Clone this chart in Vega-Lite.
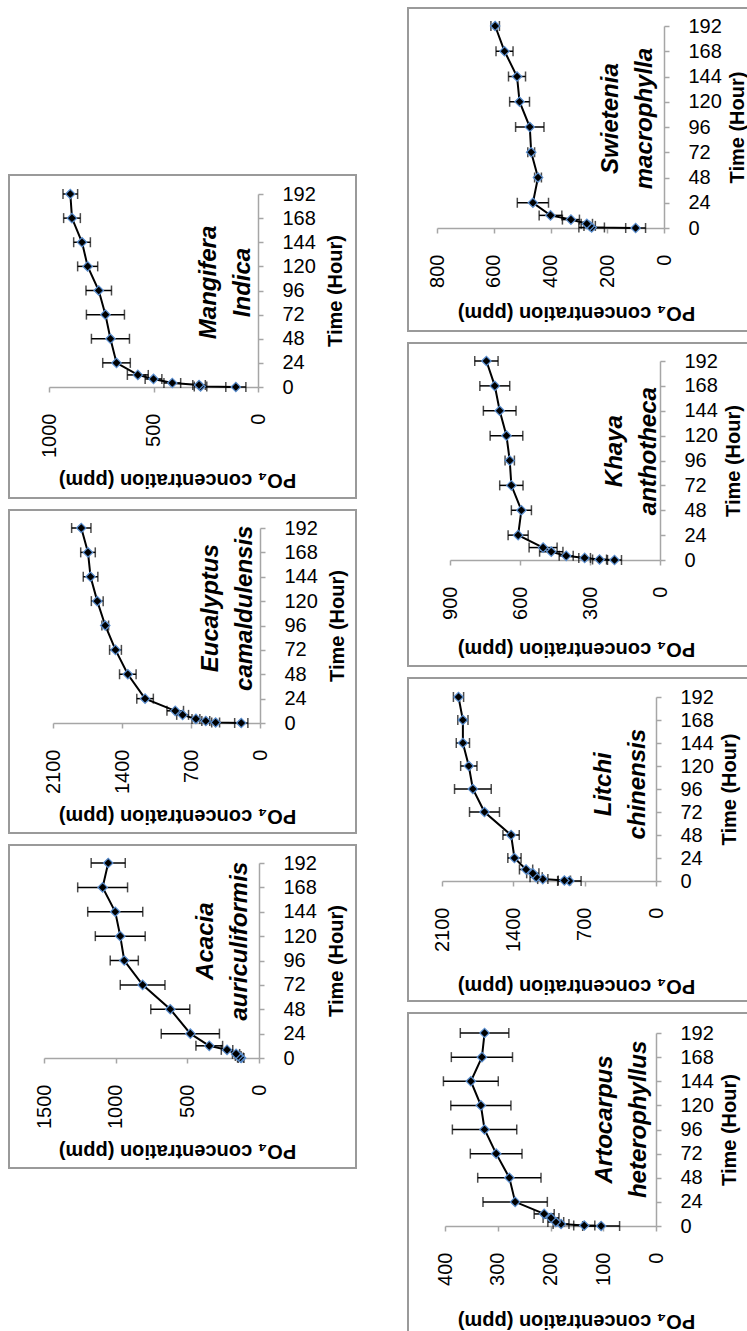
{
  "$schema": "https://vega.github.io/schema/vega-lite/v6.json",
  "padding": {"left": 8, "top": 7, "right": 0, "bottom": 0},
  "background": "white",
  "spacing": 50,
  "datasets": {
    "mangifera": [
      {"t": 0, "c": 106, "e": 48}, {"t": 0.5, "c": 275, "e": 30}, {"t": 2, "c": 282, "e": 30}, {"t": 4, "c": 410, "e": 40},
      {"t": 8, "c": 500, "e": 40}, {"t": 12, "c": 575, "e": 50}, {"t": 24, "c": 677, "e": 66}, {"t": 48, "c": 706, "e": 91},
      {"t": 72, "c": 730, "e": 91}, {"t": 96, "c": 762, "e": 61}, {"t": 120, "c": 815, "e": 48}, {"t": 144, "c": 842, "e": 40},
      {"t": 168, "c": 890, "e": 40}, {"t": 192, "c": 898, "e": 35}
    ],
    "eucalyptus": [
      {"t": 0, "c": 190, "e": 67}, {"t": 0.5, "c": 450, "e": 40}, {"t": 2, "c": 550, "e": 40}, {"t": 4, "c": 650, "e": 40},
      {"t": 8, "c": 785, "e": 60}, {"t": 12, "c": 860, "e": 84}, {"t": 24, "c": 1166, "e": 84}, {"t": 48, "c": 1341, "e": 84},
      {"t": 72, "c": 1466, "e": 60}, {"t": 96, "c": 1570, "e": 34}, {"t": 120, "c": 1651, "e": 60}, {"t": 144, "c": 1719, "e": 74},
      {"t": 168, "c": 1745, "e": 74}, {"t": 192, "c": 1813, "e": 98}
    ],
    "acacia": [
      {"t": 0, "c": 125, "e": 20}, {"t": 0.5, "c": 130, "e": 20}, {"t": 2, "c": 145, "e": 20}, {"t": 4, "c": 160, "e": 25},
      {"t": 8, "c": 223, "e": 40}, {"t": 12, "c": 347, "e": 93}, {"t": 24, "c": 479, "e": 203}, {"t": 48, "c": 619, "e": 136},
      {"t": 72, "c": 812, "e": 156}, {"t": 96, "c": 940, "e": 98}, {"t": 120, "c": 968, "e": 174}, {"t": 144, "c": 1003, "e": 192},
      {"t": 168, "c": 1091, "e": 174}, {"t": 192, "c": 1052, "e": 119}
    ],
    "swietenia": [
      {"t": 0, "c": 100, "e": 35}, {"t": 0.5, "c": 255, "e": 45}, {"t": 2, "c": 262, "e": 20}, {"t": 4, "c": 272, "e": 20},
      {"t": 8, "c": 328, "e": 30}, {"t": 12, "c": 400, "e": 40}, {"t": 24, "c": 462, "e": 55}, {"t": 48, "c": 444, "e": 12},
      {"t": 72, "c": 468, "e": 12}, {"t": 96, "c": 473, "e": 50}, {"t": 120, "c": 509, "e": 35}, {"t": 144, "c": 518, "e": 30},
      {"t": 168, "c": 562, "e": 30}, {"t": 192, "c": 595, "e": 15}
    ],
    "khaya": [
      {"t": 0, "c": 195, "e": 30}, {"t": 0.5, "c": 259, "e": 30}, {"t": 2, "c": 323, "e": 25}, {"t": 4, "c": 402, "e": 30},
      {"t": 8, "c": 466, "e": 50}, {"t": 12, "c": 501, "e": 60}, {"t": 24, "c": 608, "e": 43}, {"t": 48, "c": 594, "e": 43},
      {"t": 72, "c": 637, "e": 50}, {"t": 96, "c": 644, "e": 20}, {"t": 120, "c": 658, "e": 70}, {"t": 144, "c": 687, "e": 70},
      {"t": 168, "c": 708, "e": 64}, {"t": 192, "c": 744, "e": 50}
    ],
    "litchi": [
      {"t": 0, "c": 850, "e": 115}, {"t": 0.5, "c": 899, "e": 60}, {"t": 2, "c": 1111, "e": 50}, {"t": 4, "c": 1176, "e": 60},
      {"t": 8, "c": 1209, "e": 60}, {"t": 12, "c": 1275, "e": 65}, {"t": 24, "c": 1389, "e": 65}, {"t": 48, "c": 1422, "e": 80},
      {"t": 72, "c": 1683, "e": 147}, {"t": 96, "c": 1797, "e": 180}, {"t": 120, "c": 1837, "e": 80}, {"t": 144, "c": 1895, "e": 65},
      {"t": 168, "c": 1895, "e": 50}, {"t": 192, "c": 1938, "e": 50}
    ],
    "artocarpus": [
      {"t": 0, "c": 104, "e": 35}, {"t": 0.5, "c": 136, "e": 20}, {"t": 2, "c": 180, "e": 15}, {"t": 4, "c": 190, "e": 15},
      {"t": 8, "c": 199, "e": 15}, {"t": 12, "c": 212, "e": 19}, {"t": 24, "c": 267, "e": 61}, {"t": 48, "c": 278, "e": 60},
      {"t": 72, "c": 303, "e": 49}, {"t": 96, "c": 325, "e": 61}, {"t": 120, "c": 332, "e": 57}, {"t": 144, "c": 351, "e": 52},
      {"t": 168, "c": 330, "e": 58}, {"t": 192, "c": 325, "e": 46}
    ]
  },
  "hconcat": [
    {
      "spacing": 10,
      "vconcat": [
        {"width": 347, "height": 156, "view": {"stroke": null}, "data": {"values": []}, "mark": "point"},
        {
          "width": 347, "height": 323,
          "view": {"stroke": "#9a9a9a", "strokeWidth": 2},
          "data": {"name": "mangifera"},
          "encoding": {
            "x": {"field": "c", "type": "quantitative", "scale": {"domain": [0, 1000], "range": [249, 40], "nice": false, "zero": false},
                  "axis": {"values": [0, 500, 1000], "offset": -111, "title": "PO₄ concentration (ppm)", "titleY": 92}},
            "y": {"field": "t", "type": "quantitative", "scale": {"domain": [0, 192], "range": [212, 19], "nice": false},
                  "axis": {"orient": "right", "values": [0, 24, 48, 72, 96, 120, 144, 168, 192], "offset": -98, "title": "Time (Hour)"}}
          },
          "layer": [
            {"mark": {"type": "errorbar", "color": "black", "thickness": 1.5, "ticks": {"size": 10, "thickness": 1.5, "color": "black"}}, "encoding": {"xError": {"field": "e"}}},
            {"mark": {"type": "line", "color": "black", "strokeWidth": 2}, "encoding": {"order": {"field": "t", "type": "quantitative"}}},
            {"mark": {"type": "point", "shape": "diamond", "filled": true, "fill": "black", "stroke": "#5b8fd0", "strokeWidth": 1.2, "size": 90, "opacity": 1}},
            {"data": {"values": [{"label": "Mangifera\nIndica", "c": 235, "t": 104}]}, "mark": {"type": "text", "lineBreak": "\n", "angle": 270, "font": "Liberation Sans", "fontSize": 24, "fontWeight": "bold", "fontStyle": "italic", "lineHeight": 34, "align": "center", "baseline": "middle", "color": "black"},
             "encoding": {"text": {"field": "label", "type": "nominal"}}}
          ]
        },
        {
          "width": 347, "height": 323,
          "view": {"stroke": "#9a9a9a", "strokeWidth": 2},
          "data": {"name": "eucalyptus"},
          "encoding": {
            "x": {"field": "c", "type": "quantitative", "scale": {"domain": [0, 2100], "range": [251, 44], "nice": false, "zero": false},
                  "axis": {"values": [0, 700, 1400, 2100], "offset": -110, "title": "PO₄ concentration (ppm)", "titleY": 92}},
            "y": {"field": "t", "type": "quantitative", "scale": {"domain": [0, 192], "range": [213, 18], "nice": false},
                  "axis": {"orient": "right", "values": [0, 24, 48, 72, 96, 120, 144, 168, 192], "offset": -96, "title": "Time (Hour)"}}
          },
          "layer": [
            {"mark": {"type": "errorbar", "color": "black", "thickness": 1.5, "ticks": {"size": 10, "thickness": 1.5, "color": "black"}}, "encoding": {"xError": {"field": "e"}}},
            {"mark": {"type": "line", "color": "black", "strokeWidth": 2}, "encoding": {"order": {"field": "t", "type": "quantitative"}}},
            {"mark": {"type": "point", "shape": "diamond", "filled": true, "fill": "black", "stroke": "#5b8fd0", "strokeWidth": 1.2, "size": 90, "opacity": 1}},
            {"data": {"values": [{"label": "Eucalyptus\ncamaldulensis", "c": 498, "t": 113}]}, "mark": {"type": "text", "lineBreak": "\n", "angle": 270, "font": "Liberation Sans", "fontSize": 24, "fontWeight": "bold", "fontStyle": "italic", "lineHeight": 34, "align": "center", "baseline": "middle", "color": "black"},
             "encoding": {"text": {"field": "label", "type": "nominal"}}}
          ]
        },
        {
          "width": 347, "height": 323,
          "view": {"stroke": "#9a9a9a", "strokeWidth": 2},
          "data": {"name": "acacia"},
          "encoding": {
            "x": {"field": "c", "type": "quantitative", "scale": {"domain": [0, 1500], "range": [250, 35], "nice": false, "zero": false},
                  "axis": {"values": [0, 500, 1000, 1500], "offset": -110, "title": "PO₄ concentration (ppm)", "titleY": 92}},
            "y": {"field": "t", "type": "quantitative", "scale": {"domain": [0, 192], "range": [213, 18], "nice": false},
                  "axis": {"orient": "right", "values": [0, 24, 48, 72, 96, 120, 144, 168, 192], "offset": -97, "title": "Time (Hour)"}}
          },
          "layer": [
            {"mark": {"type": "errorbar", "color": "black", "thickness": 1.5, "ticks": {"size": 10, "thickness": 1.5, "color": "black"}}, "encoding": {"xError": {"field": "e"}}},
            {"mark": {"type": "line", "color": "black", "strokeWidth": 2}, "encoding": {"order": {"field": "t", "type": "quantitative"}}},
            {"mark": {"type": "point", "shape": "diamond", "filled": true, "fill": "black", "stroke": "#5b8fd0", "strokeWidth": 1.2, "size": 90, "opacity": 1}},
            {"data": {"values": [{"label": "Acacia\nauriculiformis", "c": 370, "t": 115}]}, "mark": {"type": "text", "lineBreak": "\n", "angle": 270, "font": "Liberation Sans", "fontSize": 24, "fontWeight": "bold", "fontStyle": "italic", "lineHeight": 34, "align": "center", "baseline": "middle", "color": "black"},
             "encoding": {"text": {"field": "label", "type": "nominal"}}}
          ]
        }
      ]
    },
    {
      "spacing": 10,
      "vconcat": [
        {
          "width": 347, "height": 323,
          "view": {"stroke": "#9a9a9a", "strokeWidth": 2},
          "data": {"name": "swietenia"},
          "encoding": {
            "x": {"field": "c", "type": "quantitative", "scale": {"domain": [0, 800], "range": [256, 29], "nice": false, "zero": false},
                  "axis": {"values": [0, 200, 400, 600, 800], "offset": -103, "title": "PO₄ concentration (ppm)", "titleY": 84}},
            "y": {"field": "t", "type": "quantitative", "scale": {"domain": [0, 192], "range": [220, 18], "nice": false},
                  "axis": {"orient": "right", "values": [0, 24, 48, 72, 96, 120, 144, 168, 192], "offset": -91, "title": "Time (Hour)", "titleX": 73}}
          },
          "layer": [
            {"mark": {"type": "errorbar", "color": "black", "thickness": 1.5, "ticks": {"size": 10, "thickness": 1.5, "color": "black"}}, "encoding": {"xError": {"field": "e"}}},
            {"mark": {"type": "line", "color": "black", "strokeWidth": 2}, "encoding": {"order": {"field": "t", "type": "quantitative"}}},
            {"mark": {"type": "point", "shape": "diamond", "filled": true, "fill": "black", "stroke": "#5b8fd0", "strokeWidth": 1.2, "size": 90, "opacity": 1}},
            {"data": {"values": [{"label": "Swietenia\nmacrophylla", "c": 187, "t": 104}]}, "mark": {"type": "text", "lineBreak": "\n", "angle": 270, "font": "Liberation Sans", "fontSize": 24, "fontWeight": "bold", "fontStyle": "italic", "lineHeight": 34, "align": "center", "baseline": "middle", "color": "black"},
             "encoding": {"text": {"field": "label", "type": "nominal"}}}
          ]
        },
        {
          "width": 347, "height": 323,
          "view": {"stroke": "#9a9a9a", "strokeWidth": 2},
          "data": {"name": "khaya"},
          "encoding": {
            "x": {"field": "c", "type": "quantitative", "scale": {"domain": [0, 900], "range": [252, 42], "nice": false, "zero": false},
                  "axis": {"values": [0, 300, 600, 900], "offset": -106, "title": "PO₄ concentration (ppm)", "titleY": 88}},
            "y": {"field": "t", "type": "quantitative", "scale": {"domain": [0, 192], "range": [217, 18], "nice": false},
                  "axis": {"orient": "right", "values": [0, 24, 48, 72, 96, 120, 144, 168, 192], "offset": -95, "title": "Time (Hour)", "titleX": 73}}
          },
          "layer": [
            {"mark": {"type": "errorbar", "color": "black", "thickness": 1.5, "ticks": {"size": 10, "thickness": 1.5, "color": "black"}}, "encoding": {"xError": {"field": "e"}}},
            {"mark": {"type": "line", "color": "black", "strokeWidth": 2}, "encoding": {"order": {"field": "t", "type": "quantitative"}}},
            {"mark": {"type": "point", "shape": "diamond", "filled": true, "fill": "black", "stroke": "#5b8fd0", "strokeWidth": 1.2, "size": 90, "opacity": 1}},
            {"data": {"values": [{"label": "Khaya\nanthotheca", "c": 194, "t": 105}]}, "mark": {"type": "text", "lineBreak": "\n", "angle": 270, "font": "Liberation Sans", "fontSize": 24, "fontWeight": "bold", "fontStyle": "italic", "lineHeight": 34, "align": "center", "baseline": "middle", "color": "black"},
             "encoding": {"text": {"field": "label", "type": "nominal"}}}
          ]
        },
        {
          "width": 347, "height": 323,
          "view": {"stroke": "#9a9a9a", "strokeWidth": 2},
          "data": {"name": "litchi"},
          "encoding": {
            "x": {"field": "c", "type": "quantitative", "scale": {"domain": [0, 2100], "range": [248, 34], "nice": false, "zero": false},
                  "axis": {"values": [0, 700, 1400, 2100], "offset": -120, "title": "PO₄ concentration (ppm)", "titleY": 104}},
            "y": {"field": "t", "type": "quantitative", "scale": {"domain": [0, 192], "range": [203, 19], "nice": false},
                  "axis": {"orient": "right", "values": [0, 24, 48, 72, 96, 120, 144, 168, 192], "offset": -99, "title": "Time (Hour)", "titleX": 73}}
          },
          "layer": [
            {"mark": {"type": "errorbar", "color": "black", "thickness": 1.5, "ticks": {"size": 10, "thickness": 1.5, "color": "black"}}, "encoding": {"xError": {"field": "e"}}},
            {"mark": {"type": "line", "color": "black", "strokeWidth": 2}, "encoding": {"order": {"field": "t", "type": "quantitative"}}},
            {"mark": {"type": "point", "shape": "diamond", "filled": true, "fill": "black", "stroke": "#5b8fd0", "strokeWidth": 1.2, "size": 90, "opacity": 1}},
            {"data": {"values": [{"label": "Litchi\nchinensis", "c": 513, "t": 101}]}, "mark": {"type": "text", "lineBreak": "\n", "angle": 270, "font": "Liberation Sans", "fontSize": 24, "fontWeight": "bold", "fontStyle": "italic", "lineHeight": 34, "align": "center", "baseline": "middle", "color": "black"},
             "encoding": {"text": {"field": "label", "type": "nominal"}}}
          ]
        },
        {
          "width": 347, "height": 323,
          "view": {"stroke": "#9a9a9a", "strokeWidth": 2},
          "data": {"name": "artocarpus"},
          "encoding": {
            "x": {"field": "c", "type": "quantitative", "scale": {"domain": [0, 400], "range": [248, 37], "nice": false, "zero": false},
                  "axis": {"values": [0, 100, 200, 300, 400], "offset": -110, "title": "PO₄ concentration (ppm)", "titleY": 94}},
            "y": {"field": "t", "type": "quantitative", "scale": {"domain": [0, 192], "range": [213, 20], "nice": false},
                  "axis": {"orient": "right", "values": [0, 24, 48, 72, 96, 120, 144, 168, 192], "offset": -99, "title": "Time (Hour)", "titleX": 73}}
          },
          "layer": [
            {"mark": {"type": "errorbar", "color": "black", "thickness": 1.5, "ticks": {"size": 10, "thickness": 1.5, "color": "black"}}, "encoding": {"xError": {"field": "e"}}},
            {"mark": {"type": "line", "color": "black", "strokeWidth": 2}, "encoding": {"order": {"field": "t", "type": "quantitative"}}},
            {"mark": {"type": "point", "shape": "diamond", "filled": true, "fill": "black", "stroke": "#5b8fd0", "strokeWidth": 1.2, "size": 90, "opacity": 1}},
            {"data": {"values": [{"label": "Artocarpus\nheterophyllus", "c": 97, "t": 106}]}, "mark": {"type": "text", "lineBreak": "\n", "angle": 270, "font": "Liberation Sans", "fontSize": 24, "fontWeight": "bold", "fontStyle": "italic", "lineHeight": 34, "align": "center", "baseline": "middle", "color": "black"},
             "encoding": {"text": {"field": "label", "type": "nominal"}}}
          ]
        }
      ]
    }
  ],
  "config": {
    "axis": {
      "grid": false,
      "format": "d",
      "domainColor": "#a6a6a6",
      "domainWidth": 1.5,
      "tickColor": "#a6a6a6",
      "tickWidth": 1.5,
      "tickSize": 5,
      "labelFont": "Liberation Sans",
      "labelFontSize": 20,
      "labelColor": "black",
      "labelOverlap": false,
      "labelFlush": false,
      "titleFont": "Liberation Sans",
      "titleFontSize": 20,
      "titleFontWeight": "bold",
      "titleColor": "black"
    },
    "axisX": {
      "labelAngle": 270,
      "labelAlign": "right",
      "labelBaseline": "middle",
      "labelPadding": 21,
      "titleAngle": 180,
      "titleAlign": "center",
      "titleBaseline": "middle",
      "titleX": 168
    },
    "axisY": {
      "labelAngle": 0,
      "labelAlign": "left",
      "labelBaseline": "middle",
      "labelPadding": 19,
      "titleAngle": 270,
      "titleAlign": "center",
      "titleBaseline": "middle",
      "titleX": 77
    }
  }
}
